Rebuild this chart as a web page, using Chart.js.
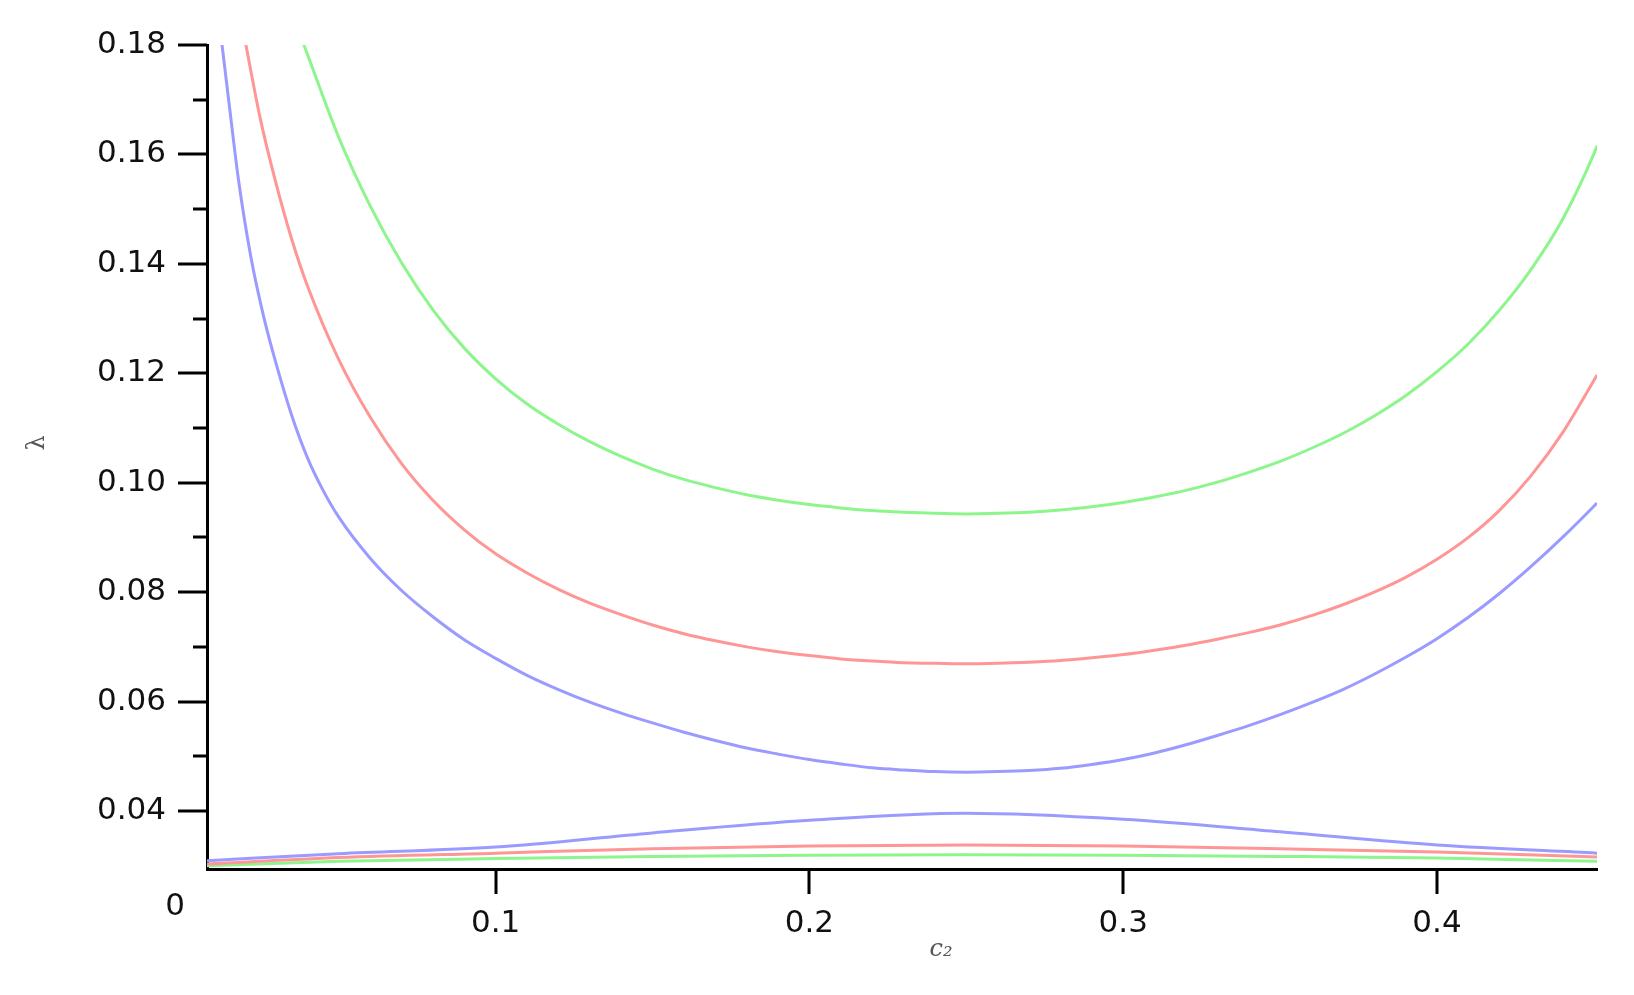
<!DOCTYPE html>
<html>
<head>
<meta charset="utf-8">
<title>lambda vs c2</title>
<script src="https://cdn.jsdelivr.net/npm/chart.js@4.4.1/dist/chart.umd.min.js"></script>
<style>
  html, body { margin: 0; padding: 0; background: #fff; }
  canvas { display: block; }
</style>
</head>
<body>
<canvas id="plot" width="1634" height="995"></canvas>
<script>
// values
const greenUpX = [0.0387, 0.04, 0.05, 0.06, 0.07, 0.08, 0.09, 0.10, 0.11, 0.12, 0.13, 0.14, 0.15, 0.16, 0.17, 0.18, 0.19, 0.20, 0.21, 0.22, 0.23, 0.24, 0.25,
  0.26, 0.27, 0.28, 0.29, 0.30, 0.31, 0.32, 0.33, 0.34, 0.35, 0.36, 0.37, 0.38, 0.39, 0.40, 0.41, 0.42, 0.43, 0.44, 0.45, 0.451];
const greenUpY = [0.1803, 0.1783, 0.1631, 0.1506, 0.1402, 0.1316, 0.1246, 0.1190, 0.1144, 0.1107, 0.1075, 0.1048, 0.1025, 0.1006, 0.0991, 0.0978, 0.0968, 0.0960, 0.0954, 0.0949, 0.0946, 0.0944, 0.0943,
  0.0944, 0.0946, 0.0950, 0.0956, 0.0964, 0.0974, 0.0986, 0.1001, 0.1019, 0.1039, 0.1063, 0.1090, 0.1122, 0.1159, 0.1203, 0.1254, 0.1316, 0.1390, 0.1481, 0.1601, 0.1616];

const redUpX = [0.0204, 0.025, 0.03, 0.035, 0.04, 0.05, 0.06, 0.07, 0.08, 0.09, 0.10, 0.11, 0.12, 0.13, 0.14, 0.15, 0.16, 0.17, 0.18, 0.19, 0.20, 0.21, 0.22, 0.23, 0.24, 0.25,
  0.26, 0.27, 0.28, 0.29, 0.30, 0.31, 0.32, 0.33, 0.34, 0.35, 0.36, 0.37, 0.38, 0.39, 0.40, 0.41, 0.42, 0.43, 0.44, 0.45, 0.451];
const redUpY = [0.180, 0.1665, 0.1547, 0.1445, 0.1360, 0.1225, 0.1120, 0.1035, 0.0968, 0.0914, 0.0870, 0.0835, 0.0805, 0.0780, 0.0759, 0.0740, 0.0724, 0.0711, 0.0700, 0.0691, 0.0684, 0.0678, 0.0674, 0.0671, 0.0670, 0.0669,
  0.0670, 0.0672, 0.0675, 0.0680, 0.0686, 0.0694, 0.0703, 0.0714, 0.0726, 0.0740, 0.0757, 0.0777, 0.0800, 0.0827, 0.0860, 0.0900, 0.0950, 0.1013, 0.1091, 0.1187, 0.1197];

const blueUpX = [0.0128, 0.015, 0.018, 0.022, 0.026, 0.03, 0.035, 0.04, 0.045, 0.05, 0.06, 0.07, 0.08, 0.09, 0.10, 0.11, 0.12, 0.13, 0.14, 0.15, 0.16, 0.17, 0.18, 0.19, 0.20, 0.21, 0.22, 0.23, 0.24, 0.25,
  0.26, 0.27, 0.28, 0.29, 0.30, 0.31, 0.32, 0.33, 0.34, 0.35, 0.36, 0.37, 0.38, 0.39, 0.40, 0.41, 0.42, 0.43, 0.44, 0.45, 0.451];
const blueUpY = [0.180, 0.1695, 0.1555, 0.1412, 0.1305, 0.1218, 0.1123, 0.1046, 0.0986, 0.0937, 0.0862, 0.0803, 0.0755, 0.0713, 0.0679, 0.0648, 0.0622, 0.0599, 0.0579, 0.0561, 0.0544, 0.0529, 0.0515, 0.0504, 0.0494, 0.0486, 0.0479, 0.0475, 0.0472, 0.0471,
  0.0472, 0.0474, 0.0478, 0.0485, 0.0494, 0.0506, 0.0521, 0.0538, 0.0556, 0.0576, 0.0598, 0.0622, 0.0650, 0.0681, 0.0715, 0.0754, 0.0798, 0.0847, 0.0900, 0.0957, 0.0963];

// lower humps share one x grid
const lowX = [0.008, 0.05, 0.1, 0.15, 0.2, 0.25, 0.3, 0.35, 0.4, 0.451];
const blueLowY = [0.0309, 0.0322, 0.0334, 0.0360, 0.0383, 0.0396, 0.0385, 0.0362, 0.0338, 0.0323];
const redLowY = [0.0303, 0.0315, 0.0323, 0.0331, 0.0336, 0.0338, 0.0336, 0.0331, 0.0325, 0.0316];
const greenLowY = [0.0300, 0.0308, 0.0313, 0.0317, 0.0319, 0.0320, 0.0319, 0.0317, 0.0314, 0.0308];

const xMajor = [0.1, 0.2, 0.3, 0.4];
const yMajor = [0.04, 0.06, 0.08, 0.10, 0.12, 0.14, 0.16, 0.18];
const yMinor = [0.05, 0.07, 0.09, 0.11, 0.13, 0.15, 0.17];

const GREEN = 'rgb(140, 245, 140)';
const RED = 'rgb(255, 150, 150)';
const BLUE = 'rgb(155, 155, 255)';
const tickFont = { family: "'DejaVu Sans', sans-serif", size: 31 };

function pts(xs, ys) {
  return xs.map((x, i) => ({ x: x, y: ys[i] }));
}

function line(label, xs, ys, color) {
  return {
    label: label,
    data: pts(xs, ys),
    borderColor: color,
    borderWidth: 3,
    pointRadius: 0,
    fill: false,
    cubicInterpolationMode: 'monotone'
  };
}

// tick marks, the lone "0" at the corner and the two axis names
const axisMarks = {
  id: 'axisMarks',
  afterDraw(chart) {
    const ctx = chart.ctx;
    const xs = chart.scales.x, ys = chart.scales.y;
    const left = chart.chartArea.left, bottom = chart.chartArea.bottom;
    ctx.save();
    ctx.strokeStyle = '#000';
    ctx.lineWidth = 3;
    ctx.beginPath();
    yMajor.forEach(v => {
      const p = Math.round(ys.getPixelForValue(v));
      ctx.moveTo(left - 29, p);
      ctx.lineTo(left, p);
    });
    yMinor.forEach(v => {
      const p = Math.round(ys.getPixelForValue(v));
      ctx.moveTo(left - 14, p);
      ctx.lineTo(left, p);
    });
    xMajor.forEach(v => {
      const p = Math.round(xs.getPixelForValue(v));
      ctx.moveTo(p, bottom);
      ctx.lineTo(p, bottom + 25);
    });
    ctx.stroke();

    ctx.fillStyle = '#111';
    ctx.font = "31px 'DejaVu Sans', sans-serif";
    ctx.textAlign = 'center';
    ctx.textBaseline = 'middle';
    ctx.fillText('0', left - 32, bottom + 38);

    // axis names
    ctx.fillStyle = '#555';
    ctx.font = "italic 24px 'DejaVu Serif', serif";
    ctx.fillText('c\u2082', 941, 950);
    ctx.translate(38, 443);
    ctx.rotate(-Math.PI / 2);
    ctx.font = "24px 'DejaVu Serif', serif";
    ctx.fillText('\u03bb', 0, 0);
    ctx.restore();
  }
};

new Chart(document.getElementById('plot'), {
  type: 'line',
  data: {
    datasets: [
      line('green upper', greenUpX, greenUpY, GREEN),
      line('red upper', redUpX, redUpY, RED),
      line('blue upper', blueUpX, blueUpY, BLUE),
      line('blue lower', lowX, blueLowY, BLUE),
      line('red lower', lowX, redLowY, RED),
      line('green lower', lowX, greenLowY, GREEN)
    ]
  },
  options: {
    responsive: false,
    animation: false,
    layout: { padding: { top: 45, right: 37, left: 0, bottom: 0 } },
    plugins: {
      legend: { display: false },
      tooltip: { enabled: false }
    },
    scales: {
      x: {
        type: 'linear',
        min: 0.008,
        max: 0.451,
        afterFit(s) { s.height = 126; },
        afterBuildTicks(s) { s.ticks = xMajor.map(v => ({ value: v })); },
        grid: { display: false, drawTicks: false },
        border: { display: true, color: '#000', width: 3 },
        ticks: {
          padding: 36,
          color: '#111',
          font: tickFont,
          maxRotation: 0,
          callback: v => v.toFixed(1)
        }
      },
      y: {
        type: 'linear',
        min: 0.0294,
        max: 0.18,
        afterFit(s) {
          s.width = 207;
          // label padding would otherwise push the plot top down
          s.paddingTop = 0;
          s.paddingBottom = 0;
        },
        afterBuildTicks(s) { s.ticks = yMajor.map(v => ({ value: v })); },
        grid: { display: false, drawTicks: false },
        border: { display: true, color: '#000', width: 3 },
        ticks: {
          padding: 41,
          color: '#111',
          font: tickFont,
          callback: v => v.toFixed(2)
        }
      }
    }
  },
  plugins: [axisMarks]
});
</script>
</body>
</html>
